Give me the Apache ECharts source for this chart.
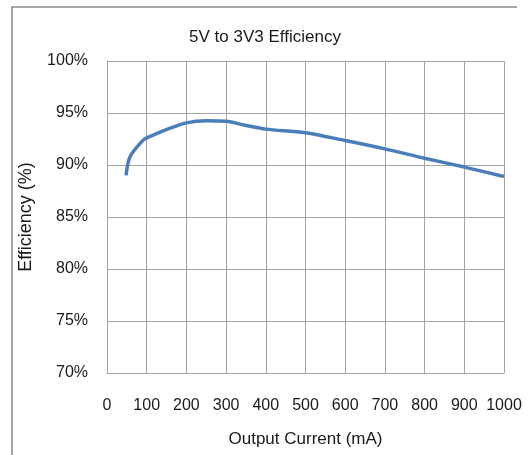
<!DOCTYPE html>
<html>
<head>
<meta charset="utf-8">
<script src="https://cdn.jsdelivr.net/npm/echarts@6/dist/echarts.min.js"></script>
<style>
  html, body { margin: 0; padding: 0; background: #fff; }
  #chart { width: 530px; height: 455px; }
</style>
</head>
<body>
<div id="chart"></div>
<script>
// output current (mA) and efficiency (%)
var currentMA = [48, 58, 91, 100, 150, 200, 250, 300, 350, 400, 500, 600, 700, 800, 900, 1000];
var efficiency = [89.0, 90.8, 92.4, 92.6, 93.4, 94.05, 94.25, 94.2, 93.8, 93.45, 93.1, 92.35, 91.55, 90.65, 89.8, 88.9];

var font = "'Liberation Sans', Arial, sans-serif";
var textColor = "#1a1a1a";
var gridColor = "#a3a3a3";

var chart = echarts.init(document.getElementById("chart"));

var option = {
  animation: false,
  backgroundColor: "#fff",
  title: {
    text: "5V to 3V3 Efficiency",
    left: "center",
    top: 29,
    padding: 0,
    textStyle: {
      fontFamily: font,
      fontSize: 17,
      fontWeight: "normal",
      color: textColor
    }
  },
  // the outer chart frame, only top and left edges are in view
  graphic: [
    {
      type: "polyline",
      shape: { points: [[12, 470], [12, 7], [517, 7]] },
      style: { stroke: "#8a8a8a", lineWidth: 1.5, fill: null }
    }
  ],
  grid: {
    left: 107,
    right: 26,
    top: 61,
    bottom: 82
  },
  xAxis: {
    type: "value",
    min: 0,
    max: 1000,
    interval: 100,
    name: "Output Current (mA)",
    nameLocation: "middle",
    nameGap: 58,
    nameTextStyle: { fontFamily: font, fontSize: 17, color: textColor },
    axisLine: { show: true, lineStyle: { color: gridColor, width: 1 } },
    axisTick: { show: false },
    axisLabel: {
      fontFamily: font, fontSize: 16, color: textColor, margin: 25,
      formatter: function (v) { return String(v); }
    },
    splitLine: { show: true, lineStyle: { color: gridColor, width: 1 } }
  },
  yAxis: {
    type: "value",
    min: 70,
    max: 100,
    interval: 5,
    name: "Efficiency (%)",
    nameLocation: "middle",
    nameGap: 72,
    nameTextStyle: { fontFamily: font, fontSize: 18, color: textColor },
    axisLine: { show: true, lineStyle: { color: gridColor, width: 1 } },
    axisTick: { show: false },
    axisLabel: { fontFamily: font, fontSize: 16, color: textColor, margin: 19, formatter: "{value}%" },
    splitLine: { show: true, lineStyle: { color: gridColor, width: 1 } }
  },
  series: [
    {
      type: "line",
      data: currentMA.map(function (c, i) { return [c, efficiency[i]]; }),
      smooth: 0.3,
      showSymbol: false,
      lineStyle: { color: "#4a7ebb", width: 3.5 }
    }
  ]
};

chart.setOption(option);
</script>
</body>
</html>
